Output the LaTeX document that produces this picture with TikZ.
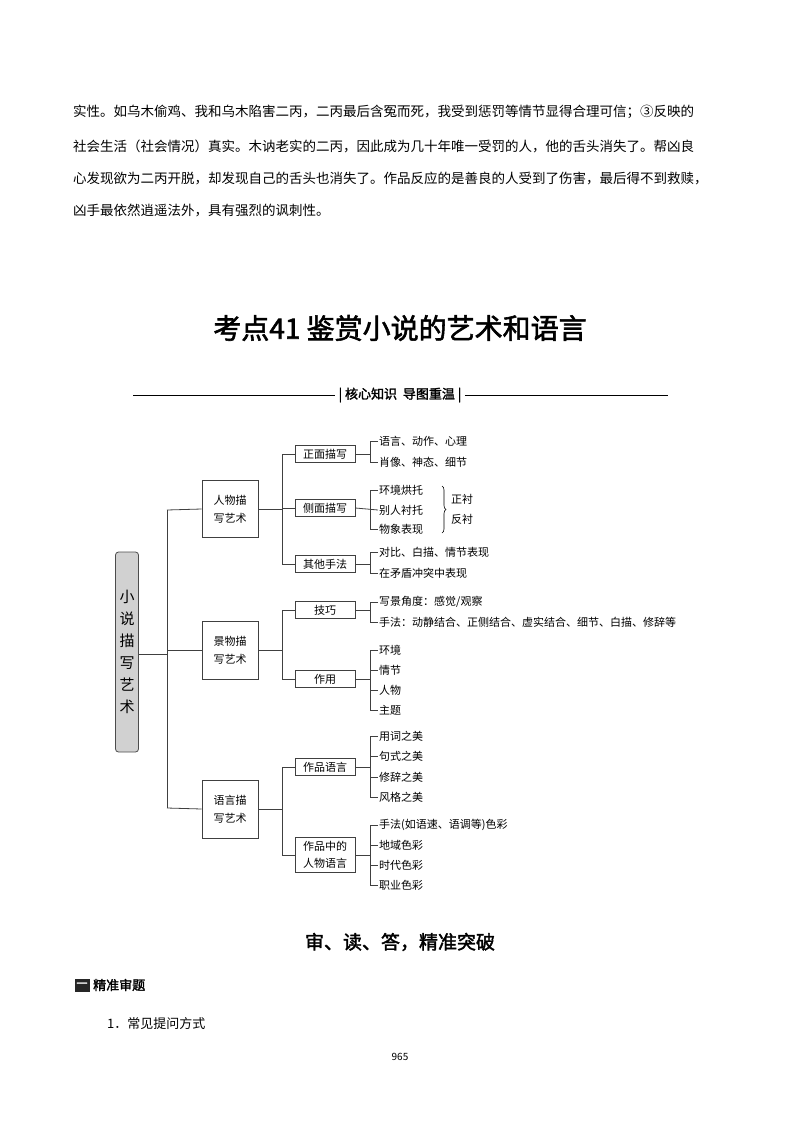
\documentclass[tikz,border=0pt]{standalone}
\usepackage{fontspec}
\setmainfont{Noto Sans CJK SC}
\newfontfamily\cjkb{Noto Sans CJK SC}[FakeBold=2]
\usetikzlibrary{decorations.pathreplacing}
\begin{document}
\begin{tikzpicture}[x=1pt,y=-1pt,
 ln/.style={draw=black!75,line width=0.8pt},
 bx/.style={draw=black!75,line width=0.8pt,fill=white,inner sep=2pt,font=\fontsize{11}{18}\selectfont,align=center},
 lf/.style={anchor=west,inner sep=1pt,font=\fontsize{11}{13}\selectfont},
 para/.style={anchor=west,inner sep=0pt,font=\fontsize{13.5}{16}\selectfont}]
\useasboundingbox (0,0) rectangle (800,1132);
\node[para] (p1) at (73,112) {实性。如乌木偷鸡、我和乌木陷害二丙，二丙最后含冤而死，我受到惩罚等情节显得合理可信；③反映的};
\node[para] (p2) at (73,146) {社会生活（社会情况）真实。木讷老实的二丙，因此成为几十年唯一受罚的人，他的舌头消失了。帮凶良};
\node[para] (p3) at (73,178) {心发现欲为二丙开脱，却发现自己的舌头也消失了。作品反应的是善良的人受到了伤害，最后得不到救赎，};
\node[para] (p4) at (73,210) {凶手最依然逍遥法外，具有强烈的讽刺性。};
\node[font=\cjkb\fontsize{28}{32}\selectfont] (title) at (400,328) {考点41 鉴赏小说的艺术和语言};
\node[font=\cjkb\fontsize{13}{15}\selectfont] (sub) at (400,395) {| 核心知识\ \ 导图重温 |};
\draw[line width=0.6pt] (133,395) -- (sub.west); \draw[line width=0.6pt] (sub.east) -- (668,395);
% root
\node[draw=black!70,line width=0.8pt,fill=black!18,rounded corners=3pt,minimum width=23pt,minimum height=200pt,inner sep=0pt,font=\fontsize{15}{22}\selectfont,align=center] (root) at (127,652) {小\\说\\描\\写\\艺\\术};
\node[bx,minimum width=56pt,minimum height=57pt] (a) at (230,509) {人物描\\写艺术};
\node[bx,minimum width=56pt,minimum height=58pt] (b) at (230,650) {景物描\\写艺术};
\node[bx,minimum width=56pt,minimum height=58pt] (c) at (230,809) {语言描\\写艺术};
\draw[ln] (root.east|-0,654) -- (167,654);
\draw[ln] (167,510) -- (167,808);
\draw[ln] (167,510) -- (a.west); \draw[ln] (167,650) -- (b.west); \draw[ln] (167,808) -- (c.west);
\tikzset{l2/.style={bx,minimum width=60pt,minimum height=17pt,inner sep=1pt}}
\node[l2] (a1) at (325,454) {正面描写};
\node[l2] (a2) at (325,508) {侧面描写};
\node[l2] (a3) at (325,564) {其他手法};
\node[l2] (b1) at (325,610) {技巧};
\node[l2] (b2) at (325,679) {作用};
\node[l2] (c1) at (325,767) {作品语言};
\node[bx,minimum width=60pt,minimum height=35pt,inner sep=1pt,font=\fontsize{11}{17}\selectfont] (c2) at (325,855) {作品中的\\人物语言};
\draw[ln] (a.east) -- (282,509); \draw[ln] (282,454) -- (282,564);
\foreach \n in {a1,a2,a3} \draw[ln] (282,0|-\n.west) -- (\n.west);
\draw[ln] (b.east) -- (282,650); \draw[ln] (282,610) -- (282,679);
\foreach \n in {b1,b2} \draw[ln] (282,0|-\n.west) -- (\n.west);
\draw[ln] (c.east) -- (282,809); \draw[ln] (282,767) -- (282,855);
\foreach \n in {c1,c2} \draw[ln] (282,0|-\n.west) -- (\n.west);
% leaves
\newcommand\leaves[2]{%
 \foreach \yy/\tt [count=\i] in {#2} {\node[lf] (#1l\i) at (378,\yy) {\tt};}
}
\leaves{a1}{441/语言、动作、心理,462/肖像、神态、细节}
\leaves{a2}{490/环境烘托,510/别人衬托,529/物象表现}
\leaves{a3}{552/对比、白描、情节表现,573/在矛盾冲突中表现}
\leaves{b1}{602/{写景角度：感觉/观察},622/手法：动静结合、正侧结合、虚实结合、细节、白描、修辞等}
\leaves{b2}{650/环境,670/情节,690/人物,710/主题}
\leaves{c1}{736/用词之美,756/句式之美,777/修辞之美,797/风格之美}
\leaves{c2}{825/手法(如语速、语调等)色彩,845/地域色彩,865/时代色彩,885/职业色彩}
\draw[ln] (a1.east) -- (370,454); \draw[ln] (a1l1.west) -| (370,462) -- (a1l2.west);
\draw[ln] (a2.east) -- (a2l2.west); \draw[ln] (a2l1.west) -| (370,529) -- (a2l3.west);
\draw[ln] (a3.east) -- (370,564); \draw[ln] (a3l1.west) -| (370,573) -- (a3l2.west);
\draw[ln] (b1.east) -- (370,610); \draw[ln] (b1l1.west) -| (370,622) -- (b1l2.west);
\draw[ln] (b2.east) -- (370,679); \draw[ln] (b2l1.west) -| (370,710) -- (b2l4.west);
\draw[ln] (370,0|-b2l2.west) -- (b2l2.west); \draw[ln] (370,0|-b2l3.west) -- (b2l3.west);
\draw[ln] (c1.east) -- (370,767); \draw[ln] (c1l1.west) -| (370,797) -- (c1l4.west);
\draw[ln] (370,0|-c1l2.west) -- (c1l2.west); \draw[ln] (370,0|-c1l3.west) -- (c1l3.west);
\draw[ln] (c2.east) -- (370,855); \draw[ln] (c2l1.west) -| (370,885) -- (c2l4.west);
\draw[ln] (370,0|-c2l2.west) -- (c2l2.west); \draw[ln] (370,0|-c2l3.west) -- (c2l3.west);
\draw[line width=0.6pt,decorate,decoration={brace,amplitude=4pt}] (442,486) -- (442,533);
\node[lf] (zc) at (450,499) {正衬};
\node[lf] (fc) at (450,519) {反衬};
% bottom
\node[font=\cjkb\fontsize{19}{22}\selectfont] (h2) at (400,942) {审、读、答，精准突破};
\node[fill=black!85,text=white,minimum width=15pt,minimum height=13pt,inner sep=0pt,font=\cjkb\fontsize{11}{12}\selectfont] (yi) at (82,985) {一};
\node[anchor=west,font=\cjkb\fontsize{13}{15}\selectfont,inner sep=0pt] (jz) at (93,985) {精准审题};
\node[anchor=west,font=\fontsize{13}{15}\selectfont,inner sep=0pt] (q1) at (107,1024) {1．常见提问方式};
\node[font=\fontsize{10}{12}\selectfont] (pg) at (400,1057) {965};
\end{tikzpicture}
\end{document}
